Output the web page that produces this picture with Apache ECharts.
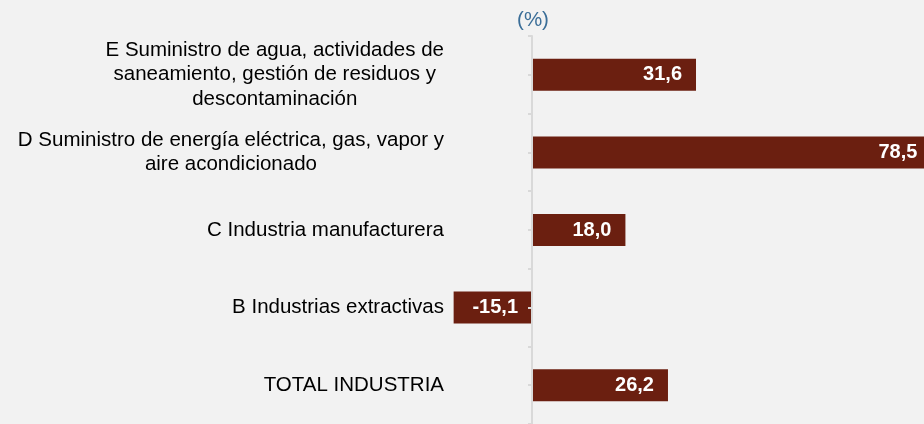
<!DOCTYPE html>
<html>
<head>
<meta charset="utf-8">
<script src="https://cdn.jsdelivr.net/npm/echarts@6/dist/echarts.min.js"></script>
<style>
html,body{margin:0;padding:0;background:#f2f2f2;}
#chart{width:924px;height:424px;}
</style>
</head>
<body>
<div id="chart"></div>
<script>
// Categories (top to bottom)
const categories = [
  "E Suministro de agua, actividades de\nsaneamiento, gestión de residuos y\ndescontaminación",
  "D Suministro de energía eléctrica, gas, vapor y\naire acondicionado",
  "C Industria manufacturera",
  "B Industrias extractivas",
  "TOTAL INDUSTRIA"
];
// Values (%)
const values = [31.6, 78.5, 18.0, -15.1, 26.2];
const unitLabel = "(%)";

const FONT = '"Liberation Sans", Arial, sans-serif';
const BAR = '#6b1f10';
const AXIS = '#d9d9d9';

const seriesData = values.map(function (v) {
  const item = { value: v };
  if (v < 0) {
    item.label = { position: 'insideRight', distance: 14 };
  } else if (v > 70) {
    item.label = { position: 'insideRight', distance: 22 };
  }
  return item;
});

const AXIS_SHIFT = -103.8;

const chart = echarts.init(document.getElementById('chart'), null, { renderer: 'canvas' });
chart.setOption({
  backgroundColor: '#f2f2f2',
  animation: false,
  graphic: [{
    type: 'text',
    x: 533,
    y: 20.5,
    z: 10,
    style: {
      text: unitLabel,
      fill: '#3b6e98',
      fontFamily: FONT,
      fontSize: 20.5,
      align: 'center',
      verticalAlign: 'middle'
    }
  }],
  grid: { left: 428.2, right: -23.2, top: 36, bottom: 0, containLabel: false, outerBoundsMode: 'none' },
  xAxis: {
    type: 'value', min: -20, max: 80, show: false
  },
  yAxis: [{
    type: 'category',
    data: categories,
    inverse: true,
    position: 'left',
    offset: AXIS_SHIFT,
    z: 5,
    axisLine: { show: true, onZero: false, lineStyle: { color: AXIS, width: 2 } },
    axisTick: { show: true, length: 4, lineStyle: { color: AXIS, width: 2 } },
    splitLine: { show: false },
    axisLabel: {
      margin: 88,
      color: '#000',
      fontFamily: FONT,
      fontSize: 20.5,
      lineHeight: 24.5,
      formatter: function (v) {
        return v.split('\n').map(function (l) { return '{c|' + l + '}'; }).join('\n');
      },
      rich: {
        c: { align: 'center', color: '#000', fontFamily: FONT, fontSize: 20.5, lineHeight: 24.5 }
      }
    }
  }, {
    type: 'category',
    data: categories,
    inverse: true,
    position: 'left',
    offset: AXIS_SHIFT,
    z: 5,
    axisLine: { show: false, onZero: false },
    axisTick: { show: true, alignWithLabel: true, length: 4, lineStyle: { color: AXIS, width: 2 } },
    axisLabel: { show: false },
    splitLine: { show: false }
  }],
  series: [{
    type: 'bar',
    data: seriesData,
    barWidth: 32,
    itemStyle: { color: BAR },
    label: {
      show: true,
      position: 'insideRight',
      distance: 14,
      color: '#fff',
      fontFamily: FONT,
      fontWeight: 'bold',
      fontSize: 20,
      formatter: function (p) { return p.value.toFixed(1).replace('.', ','); }
    }
  }]
});
</script>
</body>
</html>
